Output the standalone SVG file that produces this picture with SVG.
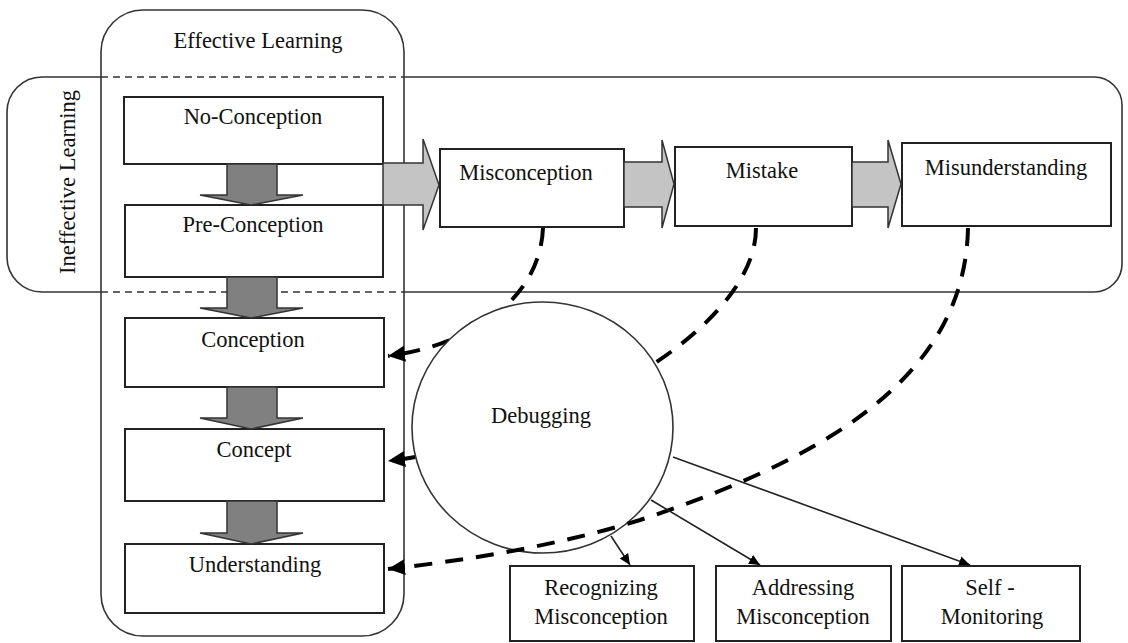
<svg xmlns="http://www.w3.org/2000/svg" width="1128" height="643" viewBox="0 0 1128 643">
  <style>
    .frame { fill: none; stroke: #333; stroke-width: 1.6; }
    .frame-dash { fill: none; stroke: #333; stroke-width: 1.6; stroke-dasharray: 7 5; }
    .box { fill: #fff; stroke: #222; stroke-width: 2; }
    .label { font-family: "Liberation Serif", "Times New Roman", serif; font-size: 22.5px; fill: #111; text-anchor: middle; }
    .flow-down { fill: #808080; stroke: #333; stroke-width: 1.5; }
    .flow-right { fill: #c4c4c4; stroke: #333; stroke-width: 1.5; }
    .debug { fill: #fff; stroke: #333; stroke-width: 1.6; }
    .feedback { fill: none; stroke: #000; stroke-width: 4; stroke-dasharray: 18 13; }
    .branch { fill: none; stroke: #222; stroke-width: 1.6; }
  </style>
  <defs>
    <marker id="bigHead" markerUnits="userSpaceOnUse" markerWidth="18" markerHeight="18" viewBox="0 0 18 18" refX="17" refY="9" orient="auto">
      <path d="M0,1 L17,9 L0,17 Z" fill="#000"/>
    </marker>
    <marker id="smallHead" markerUnits="userSpaceOnUse" markerWidth="12" markerHeight="12" viewBox="0 0 12 12" refX="11" refY="6" orient="auto">
      <path d="M0,1 L11,6 L0,11 Z" fill="#000"/>
    </marker>
  </defs>

  <rect width="1128" height="643" fill="#fff"/>

  <!-- outer regions -->
  <g id="ineffective-learning">
    <path class="frame" d="M101,77 L42,77 A35,35 0 0 0 7,112 L7,257 A35,35 0 0 0 42,292 L101,292"/>
    <path class="frame" d="M404,77 L1094,77 A28,28 0 0 1 1122,105 L1122,264 A28,28 0 0 1 1094,292 L404,292"/>
    <path class="frame-dash" d="M101,77 H404 M101,292 H404"/>
    <text class="label" transform="translate(75,182) rotate(-90)">Ineffective Learning</text>
  </g>
  <g id="effective-learning">
    <rect class="frame" x="101" y="10" width="303" height="626" rx="42" ry="42"/>
    <text class="label" x="258" y="48">Effective Learning</text>
  </g>

  <!-- feedback curves that pass behind the Debugging circle -->
  <g id="connectors-back">
    <path class="feedback" d="M543,228 C540,300 470,345 388,356" marker-end="url(#bigHead)"/>
    <path class="feedback" d="M756,228 C756,330 560,440 388,461" marker-end="url(#bigHead)"/>
  </g>

  <!-- conception stages -->
  <g id="no-conception">
    <rect class="box" x="124" y="97" width="259" height="67"/>
    <text class="label" x="253" y="124">No-Conception</text>
  </g>
  <g id="pre-conception">
    <rect class="box" x="125" y="205" width="258" height="72"/>
    <text class="label" x="253" y="232">Pre-Conception</text>
  </g>
  <g id="conception">
    <rect class="box" x="125" y="318" width="259" height="69"/>
    <text class="label" x="253" y="347">Conception</text>
  </g>
  <g id="concept">
    <rect class="box" x="125" y="429" width="259" height="72"/>
    <text class="label" x="254" y="457">Concept</text>
  </g>
  <g id="understanding">
    <rect class="box" x="125" y="544" width="259" height="69"/>
    <text class="label" x="255" y="572">Understanding</text>
  </g>

  <g id="misconception">
    <rect class="box" x="440" y="149" width="184" height="78"/>
    <text class="label" x="526" y="180">Misconception</text>
  </g>
  <g id="mistake">
    <rect class="box" x="675" y="147" width="177" height="79"/>
    <text class="label" x="762" y="178">Mistake</text>
  </g>
  <g id="misunderstanding">
    <rect class="box" x="902" y="143" width="209" height="83"/>
    <text class="label" x="1006" y="175">Misunderstanding</text>
  </g>

  <!-- block arrows between stages -->
  <g id="connectors">
    <polygon class="flow-down" points="227,164 277,164 277,195 303,195 251,205 200,195 227,195"/>
    <polygon class="flow-down" points="227,277 277,277 277,308 303,308 251,318 200,308 227,308"/>
    <polygon class="flow-down" points="227,387 277,387 277,418 303,418 251,429 200,418 227,418"/>
    <polygon class="flow-down" points="227,501 277,501 277,533 303,533 251,544 200,533 227,533"/>
    <polygon class="flow-right" points="383,163 423,163 423,139 439,185 423,230 423,205 383,205"/>
    <polygon class="flow-right" points="624,162 662,162 662,140 674,184 662,228 662,207 624,207"/>
    <polygon class="flow-right" points="852,162 888,162 888,140 901,184 888,228 888,207 852,207"/>
  </g>

  <g id="debugging">
    <ellipse class="debug" cx="542.5" cy="427.5" rx="130.5" ry="125.5"/>
    <text class="label" x="541" y="423">Debugging</text>
  </g>

  <!-- feedback curve that runs over the circle, and the debugging branches -->
  <g id="connectors-front">
    <path class="feedback" d="M968,228 C965,380 820,460 640,520 C560,545 470,560 388,569" marker-end="url(#bigHead)"/>
    <path class="branch" d="M611,536 L630,565" marker-end="url(#smallHead)"/>
    <path class="branch" d="M651,500 L760,565" marker-end="url(#smallHead)"/>
    <path class="branch" d="M673,457 L970,565" marker-end="url(#smallHead)"/>
  </g>

  <g id="recognizing-misconception">
    <rect class="box" x="510" y="566" width="184" height="75"/>
    <text class="label" x="601" y="595">Recognizing</text>
    <text class="label" x="601" y="624">Misconception</text>
  </g>
  <g id="addressing-misconception">
    <rect class="box" x="716" y="566" width="175" height="75"/>
    <text class="label" x="803" y="595">Addressing</text>
    <text class="label" x="803" y="624">Misconception</text>
  </g>
  <g id="self-monitoring">
    <rect class="box" x="902" y="566" width="178" height="75"/>
    <text class="label" x="990" y="595">Self -</text>
    <text class="label" x="992" y="624">Monitoring</text>
  </g>
</svg>
